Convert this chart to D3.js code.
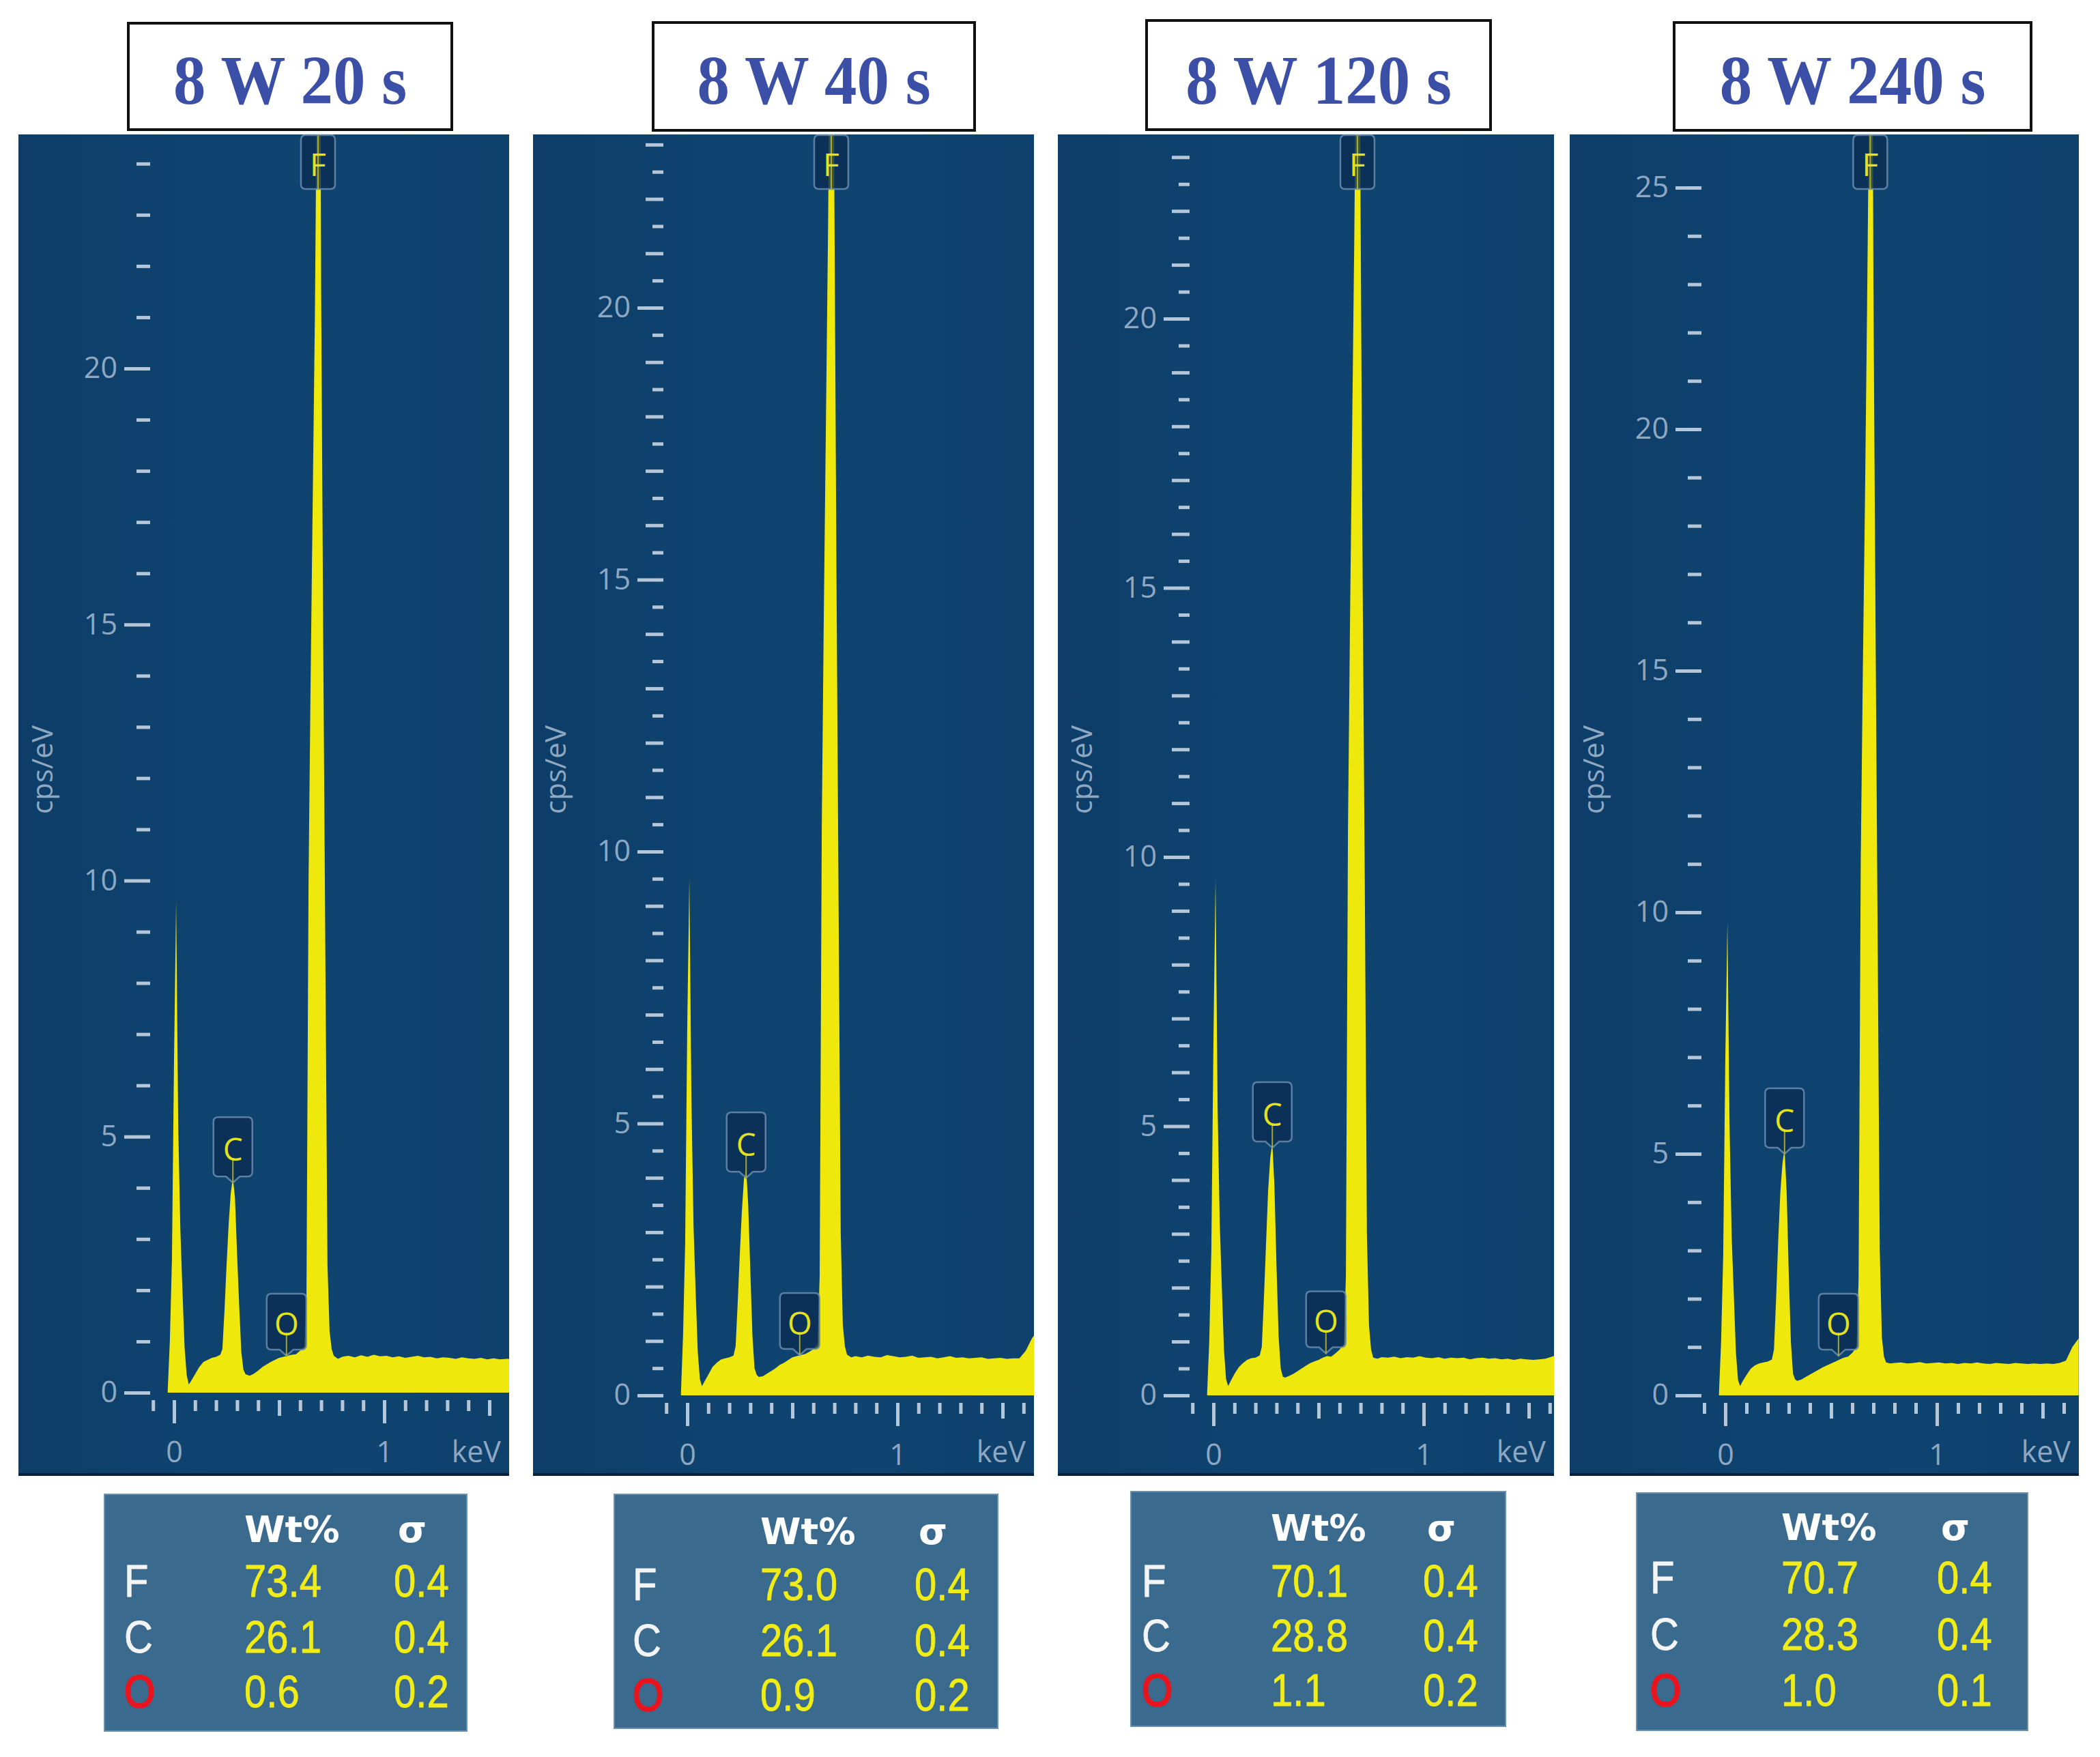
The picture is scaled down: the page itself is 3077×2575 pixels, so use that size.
<!DOCTYPE html>
<html>
<head>
<meta charset="utf-8">
<script src="https://cdn.jsdelivr.net/npm/d3@7"></script>
<style>
  body { margin: 0; background: #fff; }
  svg { display: block; }
</style>
</head>
<body>
<svg id="chart"></svg>
<script>
// EDS spectra, 4 plasma treatment times
const titles = ["8 W 20 s", "8 W 40 s", "8 W 120 s", "8 W 240 s"];

// energy axis (keV), shared by the four spectra
const energyKeV = [
  -0.03, -0.02, -0.01, 0.00, 0.01, 0.02, 0.03, 0.04, 0.05, 0.06, 0.07, 0.08,
  0.10, 0.12, 0.14, 0.16, 0.18, 0.20, 0.22,
  0.23, 0.24, 0.25, 0.26, 0.27, 0.28, 0.29, 0.30, 0.31, 0.32, 0.33, 0.34,
  0.36, 0.38, 0.40, 0.42, 0.44, 0.46, 0.48, 0.50, 0.52, 0.54, 0.56, 0.58, 0.60, 0.62,
  0.63, 0.64, 0.65, 0.66, 0.67, 0.68, 0.69, 0.70, 0.71, 0.72, 0.73, 0.74, 0.75, 0.76,
  0.78, 0.80,
  0.83, 0.86, 0.89, 0.92, 0.95, 0.98, 1.01, 1.04, 1.07, 1.10, 1.13, 1.16, 1.19, 1.22, 1.25,
  1.28, 1.31, 1.34, 1.37, 1.40, 1.43, 1.46, 1.49, 1.52, 1.55, 1.58, 1.61, 1.64, 1.67
];

// cps/eV
const counts20s = [
  0.05, 1.0, 2.6, 6.5, 9.6, 5.2, 3.2, 2.0, 0.9, 0.35, 0.16, 0.22,
  0.36, 0.5, 0.6, 0.64, 0.68, 0.7, 0.74,
  0.85, 1.6, 2.5, 3.3, 3.9, 4.2, 3.8, 2.7, 1.7, 0.8, 0.45, 0.36,
  0.33, 0.37, 0.43, 0.5, 0.55, 0.6, 0.64, 0.68, 0.7, 0.72, 0.74, 0.75, 0.82, 0.9,
  1.8, 10, 14, 17.5, 21, 26, 34, 21.5, 14.5, 8.5, 2.5, 1.2, 0.85, 0.72,
  0.66, 0.7,
  0.72, 0.69, 0.73, 0.7, 0.74, 0.71, 0.72, 0.69, 0.71, 0.68, 0.7, 0.72, 0.69, 0.7, 0.67,
  0.69, 0.68, 0.66, 0.69, 0.67, 0.66, 0.68, 0.65, 0.67, 0.65, 0.66, 0.66, 0.67, 0.67
];
const counts40s = [
  0.05, 1.1, 2.8, 6.8, 9.5, 5.4, 3.1, 1.9, 0.8, 0.3, 0.17, 0.24,
  0.38, 0.52, 0.6, 0.66, 0.68, 0.7, 0.73,
  0.9, 1.7, 2.6, 3.4, 4.0, 4.2, 3.5, 2.3, 1.1, 0.5, 0.38, 0.34,
  0.35, 0.4, 0.45, 0.5, 0.56, 0.6, 0.65, 0.7, 0.72, 0.74, 0.76, 0.8, 0.85, 0.95,
  2.2, 10.5, 14.5, 18, 21.5, 26, 34, 22, 15, 9, 3, 1.3, 0.9, 0.75,
  0.7, 0.72,
  0.7, 0.73, 0.71, 0.7, 0.74, 0.72, 0.7, 0.71, 0.73, 0.69, 0.7, 0.71, 0.68, 0.7, 0.72,
  0.69, 0.7, 0.68, 0.69, 0.7, 0.67, 0.68, 0.69, 0.67, 0.68, 0.68, 0.82, 1.05, 1.2
];
const counts120s = [
  0.05, 1.0, 2.7, 6.6, 9.6, 5.3, 3.2, 2.0, 0.85, 0.3, 0.17, 0.25,
  0.4, 0.52, 0.6, 0.66, 0.69, 0.7, 0.74,
  0.9, 1.8, 2.8, 3.8, 4.4, 4.7, 3.9, 2.4, 1.1, 0.5, 0.35, 0.33,
  0.36, 0.4, 0.45, 0.5, 0.55, 0.6, 0.63, 0.66, 0.7, 0.73, 0.72, 0.78, 0.85, 0.95,
  2.2, 10.5, 14.5, 18, 21.5, 26, 34, 22, 15, 9.5, 3, 1.3, 0.85, 0.7,
  0.68, 0.71,
  0.7, 0.72, 0.69, 0.71, 0.7, 0.73, 0.7, 0.69, 0.71, 0.68, 0.7, 0.69, 0.7, 0.67, 0.69,
  0.7, 0.68, 0.69, 0.67, 0.68, 0.66, 0.68, 0.67, 0.66, 0.67, 0.68, 0.72, 0.76, 0.8
];
const counts240s = [
  0.05, 1.1, 2.9, 7.0, 9.8, 5.6, 3.3, 2.1, 0.9, 0.32, 0.19, 0.28,
  0.42, 0.55, 0.62, 0.66, 0.68, 0.7, 0.74,
  0.95, 2.0, 3.2, 4.2, 4.8, 5.1, 4.2, 2.5, 1.1, 0.45, 0.33, 0.3,
  0.33, 0.38, 0.43, 0.48, 0.53, 0.58, 0.62, 0.66, 0.7, 0.74, 0.78, 0.8, 0.88, 1.0,
  2.4, 11, 15, 18.5, 22.5, 27, 36, 23, 16, 9.5, 3, 1.2, 0.8, 0.68,
  0.66, 0.67,
  0.68, 0.66, 0.67, 0.69, 0.66, 0.67, 0.68, 0.66, 0.67, 0.65, 0.67, 0.66, 0.68, 0.66, 0.65,
  0.67, 0.66, 0.65, 0.67, 0.66, 0.65, 0.66, 0.65, 0.66, 0.65, 0.67, 0.72, 1.0, 1.18
];
const spectra = [counts20s, counts40s, counts120s, counts240s];

// peak markers
const peakNames = ["F", "C", "O"];
const peakKeV = [0.685, 0.28, 0.535];
const cMarkerCps = [4.1, 4.0, 4.6, 5.0];
const oMarkerCps = [0.72, 0.74, 0.78, 0.82];

// quantification tables
const tableElements = ["F", "C", "O"];
const wt20s = [73.4, 26.1, 0.6],  sigma20s = [0.4, 0.4, 0.2];
const wt40s = [73.0, 26.1, 0.9],  sigma40s = [0.4, 0.4, 0.2];
const wt120s = [70.1, 28.8, 1.1], sigma120s = [0.4, 0.4, 0.2];
const wt240s = [70.7, 28.3, 1.0], sigma240s = [0.4, 0.4, 0.1];
const wtAll = [wt20s, wt40s, wt120s, wt240s];
const sigmaAll = [sigma20s, sigma40s, sigma120s, sigma240s];

// page layout (pixels)
const layout = [
  { bg: [27, 746, 197, 2163], x0: 255, x1: 563, yZero: 2041, yRef: 20, yRefPx: 540, yStep: 1,
    title: [188, 662, 34, 190], table: [153, 684, 2190, 2537], cols: [182, 358, 577], rows: [2260, 2340, 2422, 2502] },
  { bg: [781, 1515, 197, 2163], x0: 1007, x1: 1315, yZero: 2045, yRef: 20, yRefPx: 451, yStep: 0.5,
    title: [957, 1428, 33, 191], table: [900, 1462, 2190, 2533], cols: [927, 1114, 1340], rows: [2263, 2345, 2427, 2507] },
  { bg: [1550, 2277, 197, 2163], x0: 1778, x1: 2086, yZero: 2045, yRef: 20, yRefPx: 467, yStep: 0.5,
    title: [1680, 2184, 30, 190], table: [1657, 2206, 2186, 2530], cols: [1673, 1862, 2085], rows: [2258, 2340, 2420, 2500] },
  { bg: [2300, 3046, 197, 2163], x0: 2528, x1: 2838, yZero: 2045, yRef: 25, yRefPx: 275, yStep: 1,
    title: [2453, 2976, 33, 191], table: [2398, 2971, 2188, 2536], cols: [2418, 2610, 2838], rows: [2257, 2335, 2418, 2500] }
];

const W = 3077, H = 2575;
const svg = d3.select("#chart").attr("width", W).attr("height", H);
const defs = svg.append("defs");

const grad = defs.append("linearGradient").attr("id", "bgGrad");
grad.append("stop").attr("offset", "0%").attr("stop-color", "#0d3d68");
grad.append("stop").attr("offset", "35%").attr("stop-color", "#0f436f");
grad.append("stop").attr("offset", "70%").attr("stop-color", "#0f4470");
grad.append("stop").attr("offset", "100%").attr("stop-color", "#0e416c");

const tickColor = "#b4c6d8";
const labelColor = "#8ea8c2";
const yellow = "#efe80c";
const fmt1 = d3.format(".1f");

function tagPath(cx, top, bottom, w, pointer) {
  const x0 = cx - w / 2, x1 = cx + w / 2, r = 7;
  let p = `M${x0 + r},${top}H${x1 - r}Q${x1},${top} ${x1},${top + r}V${bottom - r}Q${x1},${bottom} ${x1 - r},${bottom}`;
  if (pointer) p += `H${cx + 10}L${cx},${bottom + 9}L${cx - 10},${bottom}`;
  p += `H${x0 + r}Q${x0},${bottom} ${x0},${bottom - r}V${top + r}Q${x0},${top} ${x0 + r},${top}Z`;
  return p;
}

function drawTag(g, cx, top, bottom, w, letter, pointer, lineFrom, lineTo) {
  g.append("path")
    .attr("d", tagPath(cx, top, bottom, w, pointer))
    .attr("fill", "#0a2d52").attr("fill-opacity", 0.8)
    .attr("stroke", "#6a8cab").attr("stroke-width", 2.5).attr("stroke-opacity", 0.85);
  g.append("line")
    .attr("x1", cx).attr("x2", cx).attr("y1", lineFrom).attr("y2", lineTo)
    .attr("stroke", "#c4c626").attr("stroke-width", 2).attr("stroke-opacity", 0.8);
  g.append("text")
    .attr("x", cx).attr("y", (top + bottom) / 2 + 2)
    .attr("text-anchor", "middle").attr("dominant-baseline", "central")
    .attr("font-family", "'Open Sans', sans-serif").attr("font-size", 46)
    .attr("fill", "#e4e21c").text(letter);
}

function styleAxis(sel) {
  sel.select(".domain").remove();
  sel.selectAll(".tick line").attr("stroke", tickColor).attr("stroke-width", 5);
  sel.selectAll(".tick text")
    .attr("font-family", "'Open Sans', sans-serif").attr("font-size", 43).attr("fill", labelColor);
}

// narrow text: Arial-metric font squeezed horizontally
function narrowText(g, x, y, size, fill, str) {
  return g.append("text")
    .attr("transform", `translate(${x},${y}) scale(0.88,1)`)
    .attr("font-family", "'Liberation Sans', Arial, sans-serif").attr("font-size", size)
    .attr("fill", fill).attr("stroke", fill).attr("stroke-width", 0.8)
    .text(str);
}

layout.forEach((L, i) => {
  const g = svg.append("g");
  const [bx0, bx1, by0, by1] = L.bg;

  const x = d3.scaleLinear().domain([0, 1]).range([L.x0, L.x1]);
  const y = d3.scaleLinear().domain([0, L.yRef]).range([L.yZero, L.yRefPx]);

  // title box
  const [tx0, tx1, ty0, ty1] = L.title;
  g.append("rect").attr("x", tx0).attr("y", ty0).attr("width", tx1 - tx0).attr("height", ty1 - ty0)
    .attr("fill", "#fff").attr("stroke", "#111").attr("stroke-width", 4);
  g.append("text")
    .attr("transform", `translate(${(tx0 + tx1) / 2},152) scale(0.95,1.02)`)
    .attr("text-anchor", "middle")
    .attr("font-family", "'Liberation Serif', 'Times New Roman', serif")
    .attr("font-weight", "bold").attr("font-size", 100).attr("fill", "#3c4fa6")
    .text(titles[i]);

  // panel background
  g.append("rect").attr("x", bx0).attr("y", by0).attr("width", bx1 - bx0).attr("height", by1 - by0)
    .attr("fill", "url(#bgGrad)");
  g.append("rect").attr("x", bx0).attr("y", by1 - 4).attr("width", bx1 - bx0).attr("height", 4)
    .attr("fill", "#08213b");

  defs.append("clipPath").attr("id", "clip" + i).append("rect")
    .attr("x", bx0).attr("y", by0).attr("width", bx1 - bx0).attr("height", by1 - by0);

  // spectrum
  const pts = energyKeV.map((e, k) => ({ e: e, v: spectra[i][k] }));
  const area = d3.area().x(d => x(d.e)).y0(y(0)).y1(d => y(d.v));
  g.append("path").datum(pts).attr("d", area)
    .attr("fill", yellow).attr("clip-path", `url(#clip${i})`);

  // y axis (three tick lengths)
  const yTop = y.invert(by0 + 12);
  const yVals = d3.range(0, Math.floor(yTop / L.yStep) + 1).map(k => k * L.yStep);
  const yMajor = yVals.filter(v => v % 5 === 0);
  const yInt = yVals.filter(v => v % 5 !== 0 && Number.isInteger(v));
  const yHalf = yVals.filter(v => !Number.isInteger(v));
  const axX = L.x0 - 35;

  g.append("g").attr("transform", `translate(${axX},0)`)
    .call(d3.axisLeft(y).tickValues(yHalf).tickSize(16).tickFormat(""))
    .call(styleAxis);
  g.append("g").attr("transform", `translate(${axX},0)`)
    .call(d3.axisLeft(y).tickValues(yInt).tickSize(L.yStep < 1 ? 26 : 20).tickFormat(""))
    .call(styleAxis);
  g.append("g").attr("transform", `translate(${axX},0)`)
    .call(d3.axisLeft(y).tickValues(yMajor).tickSize(38).tickPadding(10).tickFormat(d3.format("d")))
    .call(styleAxis);

  // x axis
  const xVals = d3.range(-1, 18).map(k => k / 10)
    .filter(v => x(v) > bx0 + 5 && x(v) < bx1 - 3);
  const xInt = xVals.filter(v => Number.isInteger(v));
  const xHalf = xVals.filter(v => Math.abs(Math.round(v * 10) % 10) === 5);
  const xMinor = xVals.filter(v => !xInt.includes(v) && !xHalf.includes(v));
  const axY = L.yZero + 11;

  g.append("g").attr("transform", `translate(0,${axY})`)
    .call(d3.axisBottom(x).tickValues(xMinor).tickSize(16).tickFormat(""))
    .call(styleAxis);
  g.append("g").attr("transform", `translate(0,${axY})`)
    .call(d3.axisBottom(x).tickValues(xHalf).tickSize(23).tickFormat(""))
    .call(styleAxis);
  g.append("g").attr("transform", `translate(0,${axY})`)
    .call(d3.axisBottom(x).tickValues(xInt).tickSize(34).tickPadding(26).tickFormat(d3.format("d")))
    .call(styleAxis);

  g.append("text").attr("x", bx1 - 12).attr("y", 2143).attr("text-anchor", "end")
    .attr("font-family", "'Open Sans', sans-serif").attr("font-size", 43).attr("fill", labelColor)
    .text("keV");

  g.append("text")
    .attr("transform", `translate(${L.x0 - 178},1128) rotate(-90)`)
    .attr("text-anchor", "middle")
    .attr("font-family", "'Open Sans', sans-serif").attr("font-size", 42).attr("fill", labelColor)
    .text("cps/eV");

  // peak markers
  const fx = x(peakKeV[0]);
  drawTag(g, fx, by0 + 1, by0 + 80, 50, peakNames[0], false, by0 + 2, by0 + 80);

  const cx = x(peakKeV[1]), cTip = y(cMarkerCps[i]);
  drawTag(g, cx, cTip - 96, cTip - 9, 57, peakNames[1], true, cTip, cTip - 36);

  const ox = x(peakKeV[2]), oTip = y(oMarkerCps[i]);
  drawTag(g, ox, oTip - 91, oTip - 9, 58, peakNames[2], true, oTip, oTip - 34);

  // quantification table
  const [qx0, qx1, qy0, qy1] = L.table;
  g.append("rect").attr("x", qx0).attr("y", qy0).attr("width", qx1 - qx0).attr("height", qy1 - qy0)
    .attr("fill", "#3a6a8e").attr("stroke", "#6b91af").attr("stroke-width", 2);

  const headFont = "'DejaVu Sans', sans-serif";
  g.append("text").attr("x", L.cols[1]).attr("y", L.rows[0])
    .attr("font-family", headFont).attr("font-weight", "bold").attr("font-size", 54)
    .attr("fill", "#fff").text("Wt%");
  g.append("text").attr("x", L.cols[2] + 6).attr("y", L.rows[0])
    .attr("font-family", headFont).attr("font-weight", "bold").attr("font-size", 54)
    .attr("fill", "#fff").text("σ");

  tableElements.forEach((el, r) => {
    const ry = L.rows[r + 1];
    const t = narrowText(g, L.cols[0], ry, 66, el === "O" ? "#e8141e" : "#f2f4f6", el);
    if (el === "O") t.attr("stroke-width", 2.5);
    narrowText(g, L.cols[1], ry, 66, "#f0ec16", fmt1(wtAll[i][r]));
    narrowText(g, L.cols[2], ry, 66, "#f0ec16", fmt1(sigmaAll[i][r]));
  });
});
</script>
</body>
</html>
